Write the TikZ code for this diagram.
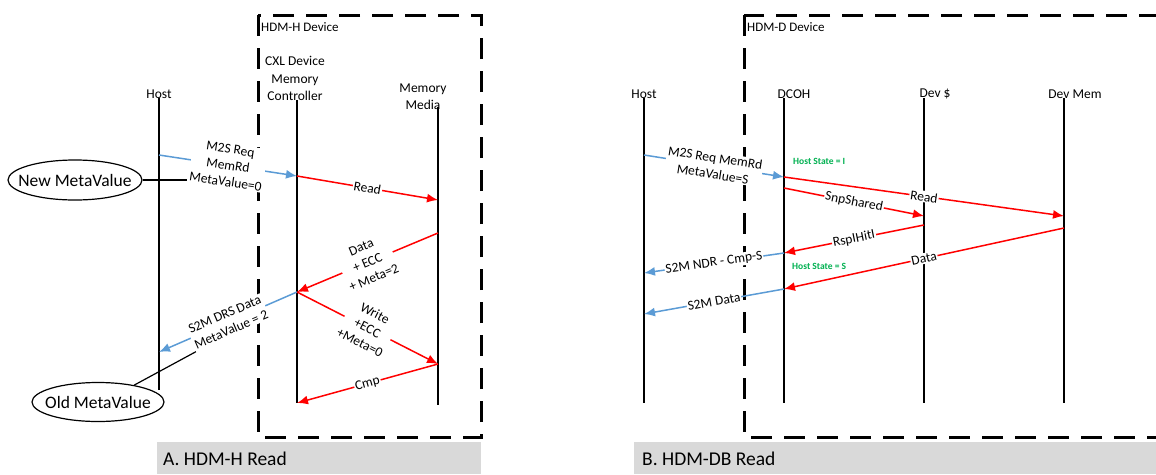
\documentclass[tikz,border=0pt]{standalone}
\usepackage{fontspec}
\setmainfont{Carlito}
\usetikzlibrary{arrows.meta,shapes.geometric,positioning}
\definecolor{msgblue}{HTML}{5B9BD5}
\definecolor{capgray}{HTML}{D9D9D9}
\definecolor{stgreen}{HTML}{00B050}

\begin{document}
\begin{tikzpicture}[x=1pt,y=-1pt,
    life/.style={line width=1.3pt},
    devbox/.style={line width=3pt, dash pattern=on 21pt off 12pt},
    bmsg/.style={color=msgblue, line width=1.5pt, -{Latex[length=11pt,width=9pt]}},
    rmsg/.style={color=red, line width=1.5pt, -{Latex[length=11pt,width=9pt]}},
    lbl/.style={midway, sloped, fill=white, text=black, inner sep=1pt, align=center,
      font=\fontsize{13.5}{16.5}\selectfont},
    lname/.style={anchor=south, inner sep=1pt, align=center, font=\fontsize{13.5}{17.5}\selectfont},
    devname/.style={anchor=west, inner sep=0pt, font=\fontsize{13}{15}\selectfont},
    meta/.style={ellipse, draw, line width=1.2pt, inner xsep=-15pt, inner ysep=0pt,
      font=\fontsize{17.5}{19}\selectfont},
    hstate/.style={anchor=west, text=stgreen, inner sep=0pt, font=\fontsize{9.5}{10}\bfseries\selectfont},
    capt/.style={anchor=west, inner sep=0pt, font=\fontsize{19.5}{21}\selectfont}]
  \useasboundingbox (0,0) rectangle (1156,474);

  % A. HDM-H read
  \draw[devbox] (258,15) rectangle (481,437);
  \node[devname] (devA) at (261,27) {HDM-H Device};

  \coordinate (hostA) at (159,98);
  \coordinate (mcA) at (297,100);
  \coordinate (mmA) at (438,107);
  \node[lname] (hostAL) at (159,100) {Host};
  \node[lname] (mcAL) at (295,102) {CXL Device\\Memory\\Controller};
  \node[lname] (mmAL) at (423,111) {Memory\\Media};
  \draw[life] (hostA) -- (hostA |- 0,390);
  \draw[life] (mcA) -- (mcA |- 0,403);
  \draw[life] (mmA) -- (mmA |- 0,405);

  \draw[bmsg] (hostA |- 0,155) -- node[lbl] (m2sA) {M2S Req\\MemRd\\MetaValue=0} (mcA |- 0,176);
  \draw[rmsg] (mcA |- 0,176) -- node[lbl] {Read} (mmA |- 0,200);
  \draw[rmsg] (mmA |- 0,233) -- node[lbl] {Data\\+ ECC\\+ Meta=2} (mcA |- 0,292);
  \draw[bmsg] (mcA |- 0,292) -- node[lbl] (drsA) {S2M DRS Data\\MetaValue = 2} (hostA |- 0,352);
  \draw[rmsg] (mcA |- 0,292) -- node[lbl] {Write\\+ECC\\+Meta=0} (mmA |- 0,364);
  \draw[rmsg] (mmA |- 0,364) -- node[lbl] {Cmp} (mcA |- 0,403);

  \node[meta, minimum width=134, minimum height=40, fill=white] (newmv) at (75,180) {New MetaValue};
  \node[meta, minimum width=132, minimum height=39, fill=white] (oldmv) at (98,402) {Old MetaValue};
  \draw[line width=1.2pt] (newmv.east) -- (newmv.east -| m2sA.south west);
  \draw[line width=1.2pt] (oldmv.25) -- (drsA.south west);

  \fill[capgray] (157,442) rectangle (481,474);
  \node[capt] (capA) at (163,459) {A. HDM-H Read};

  % B. HDM-DB read
  \draw[devbox] (744,15) rectangle (1190,437);
  \node[devname] (devB) at (747,27) {HDM-D Device};

  \coordinate (hostB) at (644,98);
  \coordinate (dcoh) at (784,98);
  \coordinate (devc) at (924,98);
  \coordinate (devm) at (1064,98);
  \node[lname] (hostBL) at (644,100) {Host};
  \node[lname] (dcohL) at (794,100) {DCOH};
  \node[lname] (devcL) at (935,100) {Dev \$};
  \node[lname] (devmL) at (1075,100) {Dev Mem};
  \foreach \l in {hostB,dcoh,devc,devm}
    \draw[life] (\l) -- (\l |- 0,403);

  \draw[bmsg] (hostB |- 0,155) -- node[lbl] {M2S Req MemRd\\MetaValue=S} (dcoh |- 0,177);
  \draw[rmsg] (dcoh |- 0,177) -- node[lbl] {Read} (devm |- 0,216);
  \draw[rmsg] (dcoh |- 0,188) -- node[lbl] {SnpShared} (devc |- 0,216);
  \draw[rmsg] (devc |- 0,225) -- node[lbl] {RspIHitI} (dcoh |- 0,253);
  \draw[rmsg] (devm |- 0,228) -- node[lbl] {Data} (dcoh |- 0,289);
  \draw[bmsg] (dcoh |- 0,253) -- node[lbl] {S2M NDR - Cmp-S} (hostB |- 0,273);
  \draw[bmsg] (dcoh |- 0,289) -- node[lbl] {S2M Data} (hostB |- 0,314);

  \node[hstate] (stI) at (793,161) {Host State = I};
  \node[hstate] (stS) at (792,266) {Host State = S};

  \fill[capgray] (634,442) rectangle (1156,474);
  \node[capt] (capB) at (642,459) {B. HDM-DB Read};
\end{tikzpicture}
\end{document}
